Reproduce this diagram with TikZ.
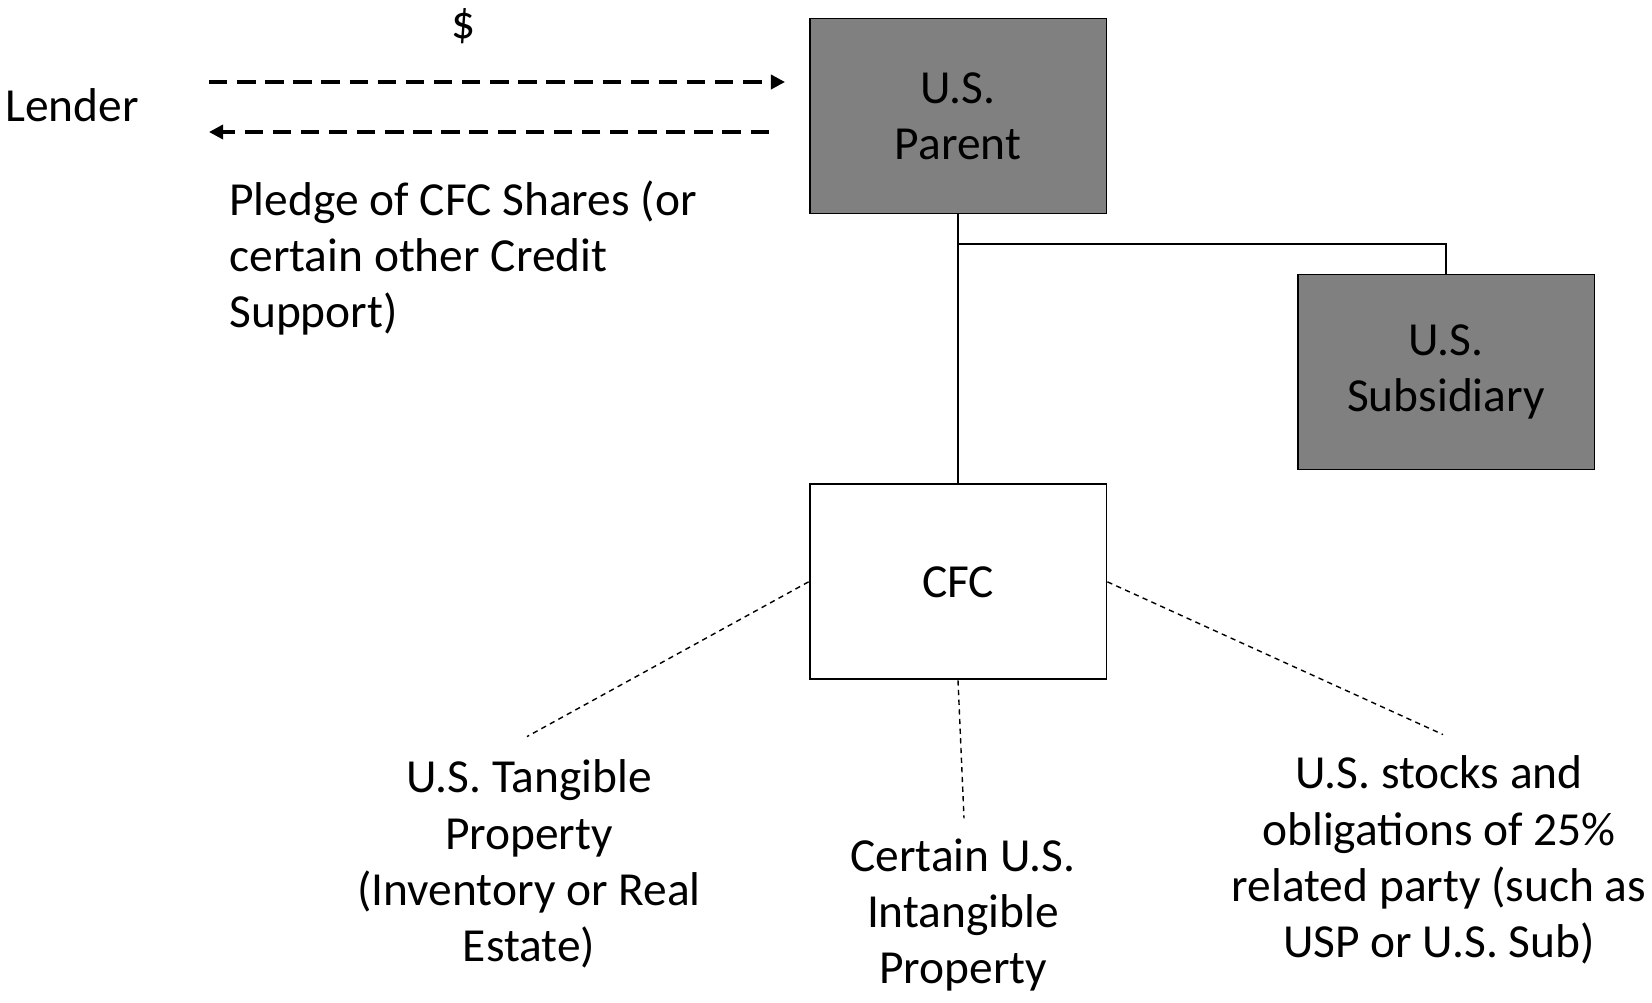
\documentclass[tikz,border=0pt]{standalone}
\usepackage{fontspec}
\setmainfont{Carlito}
\usepackage{tikz}
\usetikzlibrary{positioning, calc, arrows.meta}
\definecolor{boxgray}{HTML}{808080}
\tikzstyle{arrow}=[line width=1.9pt, draw=black, dash pattern=on 10.5pt off 5.5pt, -{Triangle[length=8pt, width=8pt]}]
\tikzstyle{link}=[line width=0.8pt, draw=black]
\tikzstyle{holding}=[line width=0.8pt, draw=black, dash pattern=on 3pt off 2.5pt]
\tikzstyle{company}=[rectangle, draw, line width=1.1pt, minimum width=5.94cm, minimum height=3.9cm, align=center, font=\fontsize{27}{32}\selectfont]
\tikzstyle{note}=[inner sep=0pt, align=center]

\begin{document}
\begin{tikzpicture}[x=0.02cm, y=-0.02cm, node distance=5.38cm, font=\fontsize{27}{32}\selectfont]
        \useasboundingbox (0,0) rectangle (1652,1002);
        % Draw the blocks
        \node[company, fill=boxgray](parent) at (958,116){U.S. \\ Parent};
        \node[company, fill=boxgray](subsidiary) at (1446,372){U.S. \\ Subsidiary};
        \node[company, fill=white, below = of parent](cfc){CFC};

        % ownership
        \coordinate (branch) at (parent.south |- 0,244);
        \draw[link] (parent.south) -- (cfc.north);
        \draw[link] (branch) -| (subsidiary.north);

        % loan and pledge
        \node[note](lender) at (72,105){Lender};
        \node[note](dollar) at (464,26){\$};
        \coordinate (loan out) at (209,82);
        \coordinate (loan in) at (785,82);
        \coordinate (pledge out) at (769,132);
        \coordinate (pledge in) at (209,132);
        \draw[arrow] (loan out) -- (loan in);
        \draw[arrow] (pledge out) -- (pledge in);
        \node[note, align=left, anchor=west](pledge) at (229,258){Pledge of CFC Shares (or \\ certain other Credit \\ Support)};

        % assets of the CFC
        \node[note](tangible) at (529,864){U.S. Tangible \\ Property \\ (Inventory or Real \\ Estate)};
        \node[note](intangible) at (963,915){Certain U.S. \\ Intangible \\ Property};
        \node[note](stocks) at (1439,860){U.S. stocks and \\ obligations of 25\% \\ related party (such as \\ USP or U.S. Sub)};
        \coordinate (tangible top) at ($(tangible.north)+(-2,-23)$);
        \coordinate (intangible top) at ($(intangible.north)+(1,-20)$);
        \coordinate (stocks top) at ($(stocks.north)+(4,-21)$);
        \draw[holding] (cfc.west) -- (tangible top);
        \draw[holding] (cfc.south) -- (intangible top);
        \draw[holding] (cfc.east) -- (stocks top);
\end{tikzpicture}
\end{document}
